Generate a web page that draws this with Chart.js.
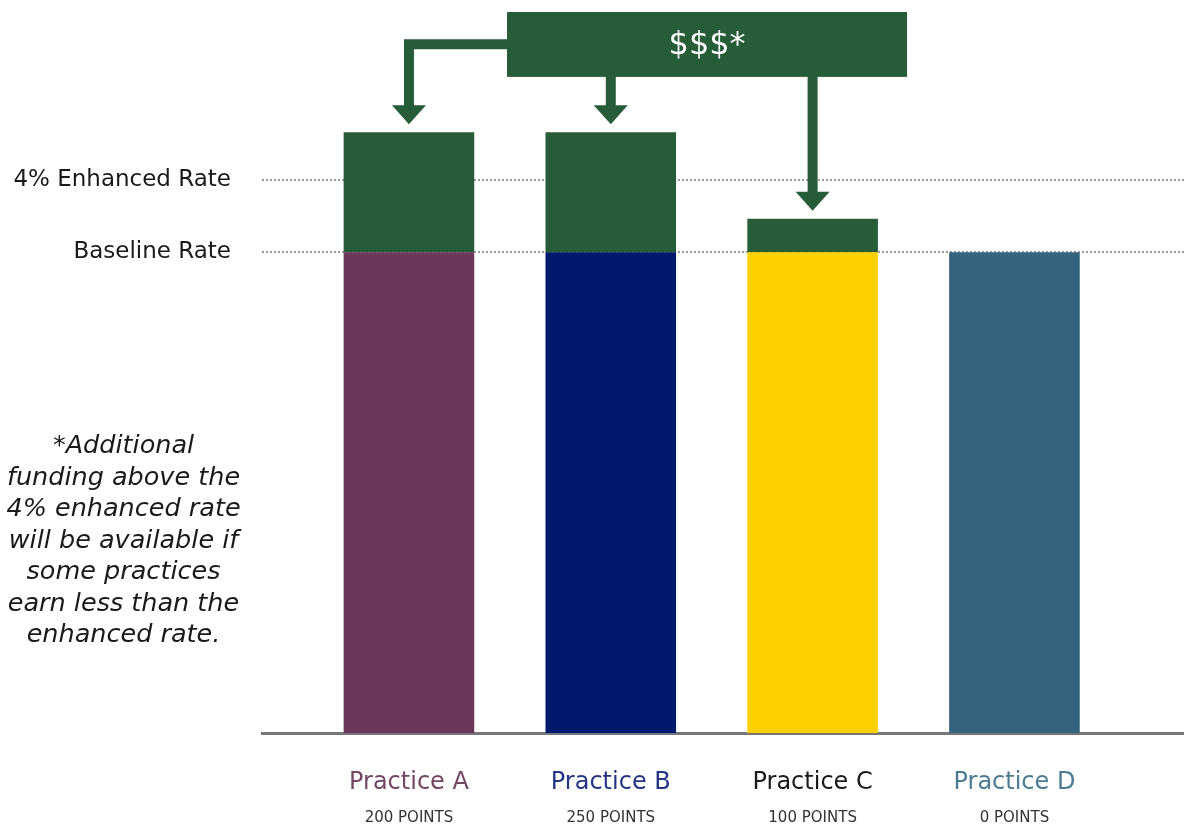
<!DOCTYPE html>
<html>
<head>
<meta charset="utf-8">
<script src="https://cdn.jsdelivr.net/npm/chart.js@4"></script>
<style>
  html, body { margin: 0; padding: 0; background: #ffffff; }
</style>
</head>
<body>
<canvas id="chart1" width="1184" height="826"></canvas>
<script>

////////////////////////////////////////////// DATA \\\\\\\\\\\\\\\\\\\\\\\\\\\\\\\\\\\\\\\\\\\\\\

const practices = ['Practice A', 'Practice B', 'Practice C', 'Practice D'];
const points = ['200 POINTS', '250 POINTS', '100 POINTS', '0 POINTS'];
const baseline = [100, 100, 100, 100];   // baseline rate for every practice
const extra = [25, 25, 7, 0];            // extra funding on top ($$$)
const rateValues = [100, 115];
const rateLabels = ['Baseline Rate', '4% Enhanced Rate'];
const noteLines = ['*Additional', 'funding above the', '4% enhanced rate', 'will be available if',
                   'some practices', 'earn less than the', 'enhanced rate.'];
const boxText = '$$$*';

////////////////////////////////////////////// STYLE / LAYOUT \\\\\\\\\\\\\\\\\\\\\\\\\\\\\\\\\\\\

const font = '"DejaVu Sans", sans-serif';
const green = '#265c38';
const barColors = ['#6b385c', '#00196c', '#ffd000', '#34637d'];
const labelColors = ['#734764', '#243585', '#1a1a1a', '#4a7c94'];

// x range so the bar centres land where they do in the picture
const xMin = -0.728;
const xMax = 3.84;

// $$$ box, in axis units
const boxFrom = 0.486, boxTo = 2.468;
const boxTop = 150, boxBottom = 136.5;
const elbowValue = 143.3;   // height of the side arrow leaving the box

////////////////////////////////////////////// ARROWS + NOTE \\\\\\\\\\\\\\\\\\\\\\\\\\\\\\\\\\\\\\

const arrowPlugin = {
  id: 'arrows',
  afterDatasetsDraw(chart) {
    const ctx = chart.ctx;
    const xs = chart.scales.x;
    const ys = chart.scales.y;

    const left = xs.getPixelForValue(boxFrom);
    const right = xs.getPixelForValue(boxTo);
    const top = ys.getPixelForValue(boxTop);
    const bottom = ys.getPixelForValue(boxBottom);
    const elbowY = ys.getPixelForValue(elbowValue);

    ctx.save();
    ctx.fillStyle = green;
    ctx.strokeStyle = green;
    ctx.lineWidth = 10;
    ctx.lineJoin = 'miter';
    ctx.lineCap = 'butt';

    // one arrow for every practice that gets extra money
    for (let i = 0; i < practices.length; i++) {
      if (extra[i] <= 0) continue;
      const cx = xs.getPixelForValue(i);
      const tip = ys.getPixelForValue(baseline[i] + extra[i]) - 8;
      const headTop = tip - 19;

      ctx.beginPath();
      if (cx < left) {
        ctx.moveTo(left + 2, elbowY);
        ctx.lineTo(cx, elbowY);
        ctx.lineTo(cx, headTop + 1);
      } else {
        ctx.moveTo(cx, bottom - 2);
        ctx.lineTo(cx, headTop + 1);
      }
      ctx.stroke();

      ctx.beginPath();
      ctx.moveTo(cx - 17, headTop);
      ctx.lineTo(cx + 17, headTop);
      ctx.lineTo(cx, tip);
      ctx.closePath();
      ctx.fill();
    }

    // the box
    ctx.fillRect(left, top, right - left, bottom - top);
    ctx.fillStyle = '#ffffff';
    ctx.font = '32px ' + font;
    ctx.textAlign = 'center';
    ctx.textBaseline = 'middle';
    ctx.fillText(boxText, (left + right) / 2, (top + bottom) / 2 + 1);

    // footnote on the left
    ctx.fillStyle = '#1a1a1a';
    ctx.font = 'italic 25.5px ' + font;
    ctx.textBaseline = 'alphabetic';
    for (let i = 0; i < noteLines.length; i++) {
      ctx.fillText(noteLines[i], 123.5, 453 + i * 31.5);
    }
    ctx.restore();
  }
};

////////////////////////////////////////////// CHART JS \\\\\\\\\\\\\\\\\\\\\\\\\\\\\\\\\\\\\\\\\\\

const baseData = baseline.map((v, i) => ({ x: i, y: v }));
const extraData = extra.map((v, i) => ({ x: i, y: v }));

const data = {
  datasets: [
    {
      label: 'Baseline',
      data: baseData,
      backgroundColor: barColors,
      barPercentage: 0.647,
      categoryPercentage: 1
    },
    {
      label: 'Extra',
      data: extraData,
      backgroundColor: green,
      barPercentage: 0.647,
      categoryPercentage: 1
    }
  ]
};

const tickList = () => practices.map((p, i) => ({ value: i }));

const config = {
  type: 'bar',
  data: data,
  options: {
    responsive: false,
    animation: false,
    layout: { padding: { top: 12, left: 0, right: 0, bottom: 0 } },
    plugins: {
      legend: { display: false },
      tooltip: { enabled: false }
    },
    scales: {
      x: {
        type: 'linear',
        stacked: true,
        offset: false,
        min: xMin,
        max: xMax,
        afterBuildTicks: s => { s.ticks = tickList(); },
        afterFit: s => { s.height = 60; },
        ticks: {
          callback: v => practices[v],
          color: c => labelColors[c.index],
          font: { family: font, size: 24 },
          padding: 35,
          maxRotation: 0,
          autoSkip: false
        },
        grid: { display: false, drawTicks: false, offset: false },
        border: { color: '#777777', width: 3 }
      },
      x2: {
        type: 'linear',
        position: 'bottom',
        weight: 1,
        offset: false,
        min: xMin,
        max: xMax,
        afterBuildTicks: s => { s.ticks = tickList(); },
        afterFit: s => { s.height = 33; },
        ticks: {
          callback: v => points[v],
          color: '#333333',
          font: { family: font, size: 15 },
          padding: 16,
          maxRotation: 0,
          autoSkip: false
        },
        grid: { display: false, drawTicks: false },
        border: { display: false }
      },
      y: {
        stacked: true,
        min: 0,
        max: 150,
        afterBuildTicks: s => { s.ticks = rateValues.map(v => ({ value: v })); },
        afterFit: s => {
          s.width = 262;
          s.paddingTop = 0;      // labels sit well inside, no extra room needed
          s.paddingBottom = 0;
        },
        ticks: {
          callback: v => rateLabels[rateValues.indexOf(v)],
          color: '#1a1a1a',
          font: { family: font, size: 23 },
          padding: 31
        },
        grid: { color: '#999999', lineWidth: 2, drawTicks: false },
        border: { display: false, dash: [2, 2] }
      }
    }
  },
  plugins: [arrowPlugin]
};

const myChart = new Chart(document.getElementById('chart1'), config);

</script>
</body>
</html>
